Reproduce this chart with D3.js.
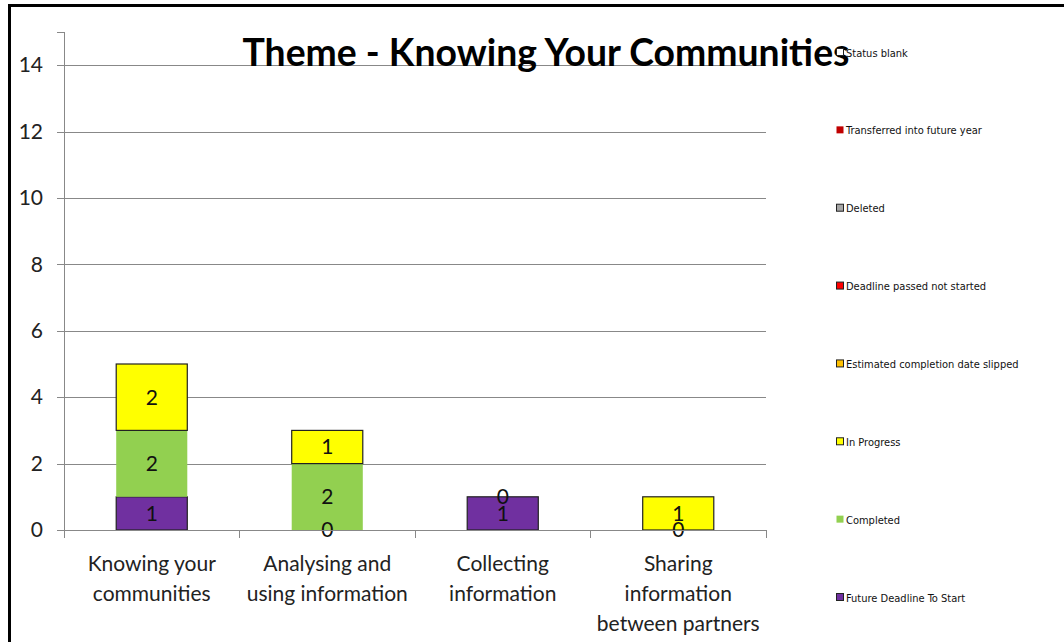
<!DOCTYPE html>
<html>
<head>
<meta charset="utf-8">
<title>Theme - Knowing Your Communities</title>
<script src="https://cdn.jsdelivr.net/npm/d3@7"></script>
<style>
  body { margin: 0; background: #fff; }
  svg { display: block; font-family: Lato, "Open Sans", sans-serif; }
  .axis text { font-family: Lato, "Open Sans", sans-serif; font-size: 21px; fill: #222; }
  .axis path, .axis line { stroke: #888; shape-rendering: crispEdges; }
  .grid line { stroke: #888; shape-rendering: crispEdges; }
  .legend text { font-size: 11px; fill: #111; font-family: "DejaVu Sans Condensed", "DejaVu Sans", sans-serif; }
</style>
</head>
<body>
<script>
// data
var categories = [
  ["Knowing your", "communities"],
  ["Analysing and", "using information"],
  ["Collecting", "information"],
  ["Sharing", "information", "between partners"]
];
// legend order top to bottom; stacking order is bottom up (reverse)
var seriesNames = ["Status blank", "Transferred into future year", "Deleted",
  "Deadline passed not started", "Estimated completion date slipped",
  "In Progress", "Completed", "Future Deadline To Start"];
var seriesColors = ["#ffffff", "#c00000", "#a6a6a6", "#ff0000", "#ffc000", "#ffff00", "#92d050", "#7030a0"];
// values per category, null = no value
var futureDeadline = [1, 0, 1, 0];
var completed     = [2, 2, 0, null];
var inProgress    = [2, 1, null, 1];
var yTicks = [0, 2, 4, 6, 8, 10, 12, 14];

var width = 1064, height = 642;
var margin = {left: 64, right: 298, top: 32, bottom: 112};
var plotW = width - margin.left - margin.right;
var plotH = height - margin.top - margin.bottom;

var svg = d3.select("body").append("svg")
  .attr("width", width).attr("height", height);

// chart frame (cropped on right and bottom)
svg.append("path")
  .attr("d", "M9.5," + height + "V5.5H" + width)
  .attr("fill", "none").attr("stroke", "#000").attr("stroke-width", 3);

var x = d3.scaleBand().domain(d3.range(categories.length)).range([0, plotW]).paddingInner(0).paddingOuter(0);
var y = d3.scaleLinear().domain([0, 15]).range([plotH, 0]);

var g = svg.append("g").attr("transform", "translate(" + margin.left + "," + margin.top + ")");

// gridlines
g.append("g").attr("class", "grid")
  .selectAll("line").data(yTicks.slice(1)).enter().append("line")
  .attr("x1", 0).attr("x2", plotW)
  .attr("y1", function(d) { return Math.round(y(d)) + 0.5; })
  .attr("y2", function(d) { return Math.round(y(d)) + 0.5; });

// stacks
var stackSeries = [
  {name: "Future Deadline To Start", values: futureDeadline, color: "#7030a0", stroke: "#222"},
  {name: "Completed", values: completed, color: "#92d050", stroke: "none"},
  {name: "In Progress", values: inProgress, color: "#ffff00", stroke: "#222"}
];
var barW = x.bandwidth() * 0.405;
var segs = [];
categories.forEach(function(c, i) {
  var base = 0;
  stackSeries.forEach(function(s) {
    var v = s.values[i];
    if (v === null) return;
    segs.push({i: i, y0: base, y1: base + v, v: v, s: s});
    base += v;
  });
});

g.selectAll("rect.seg").data(segs).enter().append("rect")
  .attr("class", "seg")
  .attr("x", function(d) { return x(d.i) + (x.bandwidth() - barW) / 2; })
  .attr("width", barW)
  .attr("y", function(d) { return y(d.y1); })
  .attr("height", function(d) { return y(d.y0) - y(d.y1); })
  .attr("fill", function(d) { return d.s.color; })
  .attr("stroke", function(d) { return d.v > 0 ? d.s.stroke : "none"; })
  .attr("stroke-width", 1.2);

g.selectAll("text.lbl").data(segs).enter().append("text")
  .attr("class", "lbl")
  .attr("x", function(d) { return x(d.i) + x.bandwidth() / 2; })
  .attr("y", function(d) { return (y(d.y0) + y(d.y1)) / 2; })
  .attr("dy", "0.35em")
  .attr("text-anchor", "middle")
  .style("font-size", "21px")
  .attr("fill", "#111")
  .text(function(d) { return d.v; });

// y axis
var yAxis = d3.axisLeft(y).tickValues(yTicks).tickSize(7).tickPadding(14).tickFormat(d3.format("d"));
g.append("g").attr("class", "axis").call(yAxis);

// x axis with category separators
var xAxis = d3.axisBottom(x).tickSize(0).tickFormat("");
var xg = g.append("g").attr("class", "axis").attr("transform", "translate(0," + plotH + ")").call(xAxis);
xg.select(".domain").attr("d", "M0,0.5H" + plotW);
xg.selectAll(".sep").data(d3.range(categories.length + 1)).enter().append("line")
  .attr("class", "sep")
  .attr("x1", function(d) { return d * x.step(); })
  .attr("x2", function(d) { return d * x.step(); })
  .attr("y1", 0).attr("y2", 8);
xg.selectAll(".cat").data(categories).enter().append("text")
  .attr("class", "cat")
  .attr("text-anchor", "middle")
  .attr("x", function(d, i) { return x(i) + x.bandwidth() / 2; })
  .attr("y", 41)
  .selectAll("tspan").data(function(d) { return d; }).enter().append("tspan")
  .attr("x", function() { return d3.select(this.parentNode).attr("x"); })
  .attr("dy", function(d, i) { return i === 0 ? 0 : 30; })
  .text(function(d) { return d; });

// title
svg.append("text")
  .attr("x", 546).attr("y", 66)
  .attr("text-anchor", "middle")
  .style("font-size", "38px").style("font-weight", "bold")
  .attr("textLength", 607).attr("lengthAdjust", "spacingAndGlyphs")
  .text("Theme - Knowing Your Communities");

// legend
var lg = svg.append("g").attr("class", "legend");
var ly = d3.scalePoint().domain(seriesNames).range([53, 598]);
var items = lg.selectAll("g").data(seriesNames).enter().append("g")
  .attr("transform", function(d) { return "translate(836," + ly(d) + ")"; });
items.append("rect")
  .attr("x", 0.5).attr("y", -4.5).attr("width", 7).attr("height", 7)
  .attr("fill", function(d, i) { return seriesColors[i]; })
  .attr("stroke", function(d, i) { return i === 1 || i === 6 ? "none" : "#222"; });
items.append("text")
  .attr("x", 10).attr("dy", "0.32em")
  .text(function(d) { return d; });
</script>
</body>
</html>
